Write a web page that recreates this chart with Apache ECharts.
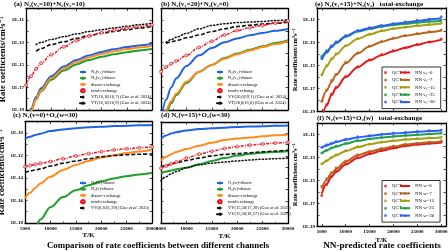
<!DOCTYPE html>
<html>
<head>
<meta charset="utf-8">
<script src="https://cdn.jsdelivr.net/npm/echarts@6/dist/echarts.min.js"></script>
<style>
  html, body { margin: 0; padding: 0; background: #fff; }
  #chart { width: 448px; height: 252px; }
</style>
</head>
<body>
<div id="chart"></div>
<script>
const T = [5000, 6000, 7000, 8000, 10000, 12500, 15000, 17500, 20000, 22500, 25000, 27500, 30000];
const tempTicks = [5000, 10000, 15000, 20000, 25000, 30000];

// every value below is log10 of the rate coefficient (cm^3 s^-1); null = not drawn
// (a) N2(v1=10)+N2(v2=10)
const aN2v1  = [-20.3, -18.9, -17.85, -17.08, -16.0, -15.14, -14.57, -14.16, -13.85, -13.61, -13.42, -13.27, -13.13];
const aN2v2  = [-20.4, -19.03, -18.06, -17.33, -16.32, -15.5, -14.96, -14.57, -14.28, -14.05, -13.87, -13.72, -13.6];
const aDisEx = [-20.5, -19.1, -18.03, -17.26, -16.18, -15.32, -14.75, -14.34, -14.03, -13.79, -13.6, -13.45, -13.31];
const aTot   = [-16.8, -16.0, -15.35, -14.85, -14.1, -13.4, -12.85, -12.45, -12.15, -11.92, -11.75, -11.58, -11.45];
const aVT1   = [null, null, -13.8, -13.55, -13.2, -12.95, -12.65, -12.4, -12.2, -12.03, -11.88, -11.73, -11.6];
const aVT2   = [null, null, -13.2, -13.0, -12.75, -12.5, -12.25, -12.05, -11.88, -11.72, -11.58, -11.43, -11.3];

// (b) N2(v1=20)+N2(v2=0)
const bN2v1  = [-20.0, -18.1, -17.0, -16.2, -15.1, -14.15, -13.5, -13.0, -12.65, -12.38, -12.17, -11.98, -11.82];
const bN2v2  = [-21.0, -19.3, -18.4, -17.7, -16.6, -15.6, -15.0, -14.4, -14.0, -13.65, -13.35, -13.05, -12.8];
const bDisEx = [-20.5, -19.0, -18.2, -17.55, -16.5, -15.6, -15.0, -14.45, -14.05, -13.72, -13.42, -13.15, -12.9];
const bTot   = [-15.6, -15.2, -14.9, -14.65, -14.15, -13.45, -12.9, -12.35, -11.95, -11.7, -11.5, -11.3, -11.1];
const bVV    = [null, -13.1, -12.95, -12.85, -12.6, -12.35, -12.05, -11.8, -11.6, -11.48, -11.38, -11.3, -11.22];
const bVT    = [null, -13.0, -12.75, -12.55, -12.2, -11.8, -11.5, -11.35, -11.25, -11.2, -11.15, -11.07, -11.0];

// (c) N2(v=0)+O2(w=30)
const cO2w   = [-10.55, -10.35, -10.2, -10.08, -9.85, -9.7, -9.6, -9.52, -9.46, -9.41, -9.37, -9.33, -9.3];
const cN2v   = [-21.0, -19.8, -18.6, -17.7, -16.6, -15.7, -15.1, -14.65, -14.3, -14.05, -13.85, -13.7, -13.55];
const cDisEx = [-15.8, -15.35, -14.9, -14.5, -13.9, -13.3, -12.85, -12.5, -12.2, -12.0, -11.8, -11.65, -11.5];
const cTot   = [-13.0, -12.9, -12.8, -12.72, -12.55, -12.3, -12.05, -11.85, -11.68, -11.52, -11.42, -11.33, -11.25];
const cVV    = [-13.5, -13.4, -13.3, -13.2, -12.95, -12.7, -12.5, -12.3, -12.12, -12.02, -11.95, -11.9, -11.87];

// (d) N2(v=15)+O2(w=30)
const dO2w   = [-10.5, -10.2, -10.02, -9.9, -9.75, -9.63, -9.55, -9.5, -9.45, -9.41, -9.37, -9.33, -9.3];
const dN2v   = [-13.55, -13.4, -13.3, -13.2, -13.05, -12.75, -12.45, -12.2, -11.98, -11.82, -11.72, -11.65, -11.6];
const dDisEx = [-12.4, -12.1, -11.85, -11.65, -11.4, -11.1, -10.85, -10.6, -10.47, -10.37, -10.27, -10.18, -10.1];
const dTot   = [-13.1, -12.9, -12.72, -12.55, -12.2, -11.85, -11.6, -11.35, -11.18, -11.05, -10.95, -10.87, -10.8];
const dVV1   = [-13.0, -12.85, -12.72, -12.62, -12.42, -12.2, -12.0, -11.87, -11.8, -11.72, -11.65, -11.57, -11.5];
const dVV2   = [-14.2, -13.85, -13.6, -13.4, -13.05, -12.8, -12.65, -12.55, -12.45, -12.37, -12.3, -12.25, -12.2];

// (e) N2(v1=15)+N2(v2) total-exchange, v2 = 0, 7, 15, 25, 30
const eLevels = ['0', '7', '15', '25', '30'];
const eNN = [
  [-19.7, -18.5, -17.6, -16.95, -16.0, -15.15, -14.55, -14.1, -13.75, -13.45, -13.2, -12.95, -12.75],
  [-18.2, -17.2, -16.45, -15.8, -14.8, -13.95, -13.35, -12.95, -12.65, -12.42, -12.25, -12.1, -11.96],
  [-15.9, -15.1, -14.5, -14.05, -13.3, -12.7, -12.3, -12.0, -11.8, -11.68, -11.55, -11.45, -11.35],
  [-14.3, -13.8, -13.4, -13.05, -12.5, -12.05, -11.82, -11.62, -11.48, -11.37, -11.27, -11.18, -11.1],
  [-14.5, -13.9, -13.4, -13.02, -12.45, -12.0, -11.75, -11.55, -11.4, -11.27, -11.13, -11.0, -10.9]
];
const eQCT = [
  [-19.3, -18.4, -17.5, -16.9, -15.95, -15.1, -14.5, -14.05, -13.7, -13.45, -13.15, -12.95, -12.7],
  [-18.1, -17.1, -16.3, -15.75, -14.7, -13.9, -13.3, -12.9, -12.6, -12.4, -12.22, -12.05, -11.92],
  [-15.8, -15.0, -14.4, -13.95, -13.25, -12.65, -12.25, -11.95, -11.78, -11.65, -11.5, -11.42, -11.3],
  [-14.2, -13.7, -13.3, -12.95, -12.45, -12.0, -11.78, -11.6, -11.45, -11.33, -11.25, -11.15, -11.05],
  [-14.4, -13.8, -13.3, -12.95, -12.4, -11.95, -11.7, -11.5, -11.35, -11.2, -11.05, -10.95, -10.75]
];

// (f) N2(v=15)+O2(w) total-exchange, w = 0, 7, 15, 25, 30
const fLevels = ['0', '7', '15', '25', '30'];
const fNN = [
  [-16.15, -15.3, -14.7, -14.25, -13.6, -13.05, -12.7, -12.42, -12.2, -12.0, -11.88, -11.78, -11.7],
  [-15.7, -14.95, -14.4, -14.0, -13.35, -12.8, -12.5, -12.25, -12.05, -11.88, -11.77, -11.68, -11.6],
  [-13.6, -13.3, -13.02, -12.8, -12.45, -12.1, -11.85, -11.67, -11.55, -11.44, -11.37, -11.31, -11.26],
  [-12.65, -12.4, -12.2, -12.05, -11.8, -11.55, -11.4, -11.27, -11.17, -11.09, -11.02, -10.96, -10.9],
  [-12.15, -11.95, -11.8, -11.65, -11.45, -11.25, -11.12, -11.0, -10.92, -10.84, -10.77, -10.7, -10.65]
];
const fQCT = [
  [-16.3, -15.35, -14.65, -14.2, -13.55, -13.0, -12.65, -12.4, -12.15, -11.98, -11.85, -11.75, -11.65],
  [-15.5, -14.85, -14.3, -13.9, -13.3, -12.75, -12.45, -12.2, -12.0, -11.85, -11.75, -11.65, -11.55],
  [-13.55, -13.25, -13.0, -12.75, -12.4, -12.05, -11.82, -11.65, -11.52, -11.42, -11.35, -11.28, -11.22],
  [-12.6, -12.35, -12.15, -12.0, -11.75, -11.5, -11.37, -11.25, -11.15, -11.07, -11.0, -10.93, -10.88],
  [-12.1, -11.9, -11.75, -11.6, -11.4, -11.2, -11.08, -10.97, -10.88, -10.8, -10.72, -10.66, -10.6]
];

const FONT = '"Liberation Serif", "DejaVu Serif", serif';
const COL = { blue: '#1f63e6', green: '#1e9e2b', orange: '#ff8a1e', red: '#e8141c', black: '#111' };
const LVL = ['#e3171b', '#b8631c', '#a3a012', '#1f9e4c', '#2b5cff'];

// y is plotted as log10(k) on a linear axis; labels are written as 1E-n
const toPts = vals => T.map((t, i) => [t, vals[i] == null ? '-' : vals[i]]);

// layout of the six panels
const panels = [
  { box: [26, 8.5, 126, 101.5], yr: [-19, -10], xr: [5000, 30000], xLab: false, yLab: true, yName: 'Rate coefficients/cm³s⁻¹', big: true },
  { box: [161, 8.5, 127, 101.5], yr: [-19, -10], xr: [5000, 30000], xLab: false, yLab: false },
  { box: [25, 121.5, 127, 101.5], yr: [-18, -9], xr: [5000, 30000], xLab: true, yLab: true, yName: 'Rate coefficients/cm³s⁻¹', big: true, xName: 'T/K' },
  { box: [161, 122, 127, 101.5], yr: [-18, -9], xr: [5000, 30000], xLab: true, yLab: false, xName: 'T/K' },
  { box: [317, 8, 129, 103.5], yr: [-19, -10], xr: [4000, 31000], xLab: false, yLab: true, yName: 'Rate coefficient/cm³s⁻¹', custom: true },
  { box: [317, 123, 129, 103.5], yr: [-19, -10], xr: [4000, 31000], xLab: true, yLab: true, yName: 'Rate coefficient/cm³s⁻¹', custom: true, xName: 'T/K' }
];

const option = {
  animation: false,
  backgroundColor: '#fff',
  title: [], grid: [], xAxis: [], yAxis: [], series: [], legend: [], graphic: []
};

const axisLine = { show: true, onZero: false, lineStyle: { color: '#000', width: 1.3 } };
const tick = { show: true, inside: true, length: 2.5, lineStyle: { color: '#000', width: 0.7 } };

panels.forEach((p, gi) => {
  option.grid.push({ left: p.box[0], top: p.box[1], width: p.box[2], height: p.box[3], containLabel: false, outerBoundsMode: 'none' });
  ['bottom', 'top'].forEach(pos => {
    const ax = {
      type: 'value', gridIndex: gi, position: pos, min: p.xr[0], max: p.xr[1],
      axisLine: axisLine, axisTick: Object.assign({}, tick), splitLine: { show: false },
      axisLabel: { show: pos === 'bottom' && p.xLab, fontSize: 5, fontWeight: 'bold', fontFamily: FONT, color: '#000', margin: 3,
        formatter: v => String(v) }
    };
    if (p.custom) {
      ax.axisTick.customValues = tempTicks;
      ax.axisLabel.customValues = tempTicks;
    } else {
      ax.interval = 5000;
      ax.minorTick = { show: true, splitNumber: 2, length: 1.5, lineStyle: { color: '#000', width: 0.6 } };
    }
    if (pos === 'bottom' && p.xName) {
      Object.assign(ax, { name: p.xName, nameLocation: 'middle', nameGap: p.custom ? 10 : 9,
        nameTextStyle: { fontSize: 7, fontWeight: 'bold', fontFamily: FONT, color: '#000' } });
    }
    option.xAxis.push(ax);
  });
  ['left', 'right'].forEach(pos => {
    const ay = {
      type: 'value', gridIndex: gi, position: pos, min: p.yr[0], max: p.yr[1], interval: 1,
      axisLine: axisLine, axisTick: tick, splitLine: { show: false },
      axisLabel: {
        show: pos === 'left' && p.yLab, fontSize: 5, fontWeight: 'bold', fontFamily: FONT, color: '#000', margin: 2,
        formatter: v => (Math.round(v) - p.yr[0]) % 2 === 0 ? '1E' + Math.round(v) : ''
      }
    };
    if (pos === 'left' && p.yName) {
      Object.assign(ay, { name: p.yName, nameLocation: 'middle', nameRotate: 90, nameGap: p.big ? 13 : 16,
        nameTextStyle: { fontSize: p.big ? 8.5 : 6.5, fontWeight: 'bold', fontFamily: FONT, color: '#000' } });
    }
    option.yAxis.push(ay);
  });
});

function line(gi, name, vals, color, kind) {
  const s = {
    type: 'line', name: name, xAxisIndex: gi * 2, yAxisIndex: gi * 2, data: toPts(vals),
    smooth: 0.35, smoothMonotone: 'x', symbol: 'none', clip: true, silent: true,
    lineStyle: { color: color, width: 2, type: 'solid' }, itemStyle: { color: color }, z: 2
  };
  if (kind === 'total') {
    s.symbol = 'circle'; s.symbolSize = 3;
    s.itemStyle = { color: '#ffc4c4', borderColor: color, borderWidth: 0.7 };
    s.lineStyle = { color: color, width: 1.5, type: [3, 1.2, 1, 1.2] };
    s.z = 4;
  } else if (kind === 'dash') {
    s.lineStyle = { color: color, width: 1.6, type: [4, 2] };
    s.z = 3;
  } else if (kind === 'dot') {
    s.lineStyle = { color: color, width: 1.5, type: [1.2, 2.2], cap: 'round' };
    s.z = 3;
  }
  option.series.push(s);
  return name;
}

function scatter(gi, name, vals, color) {
  option.series.push({
    type: 'scatter', name: name, xAxisIndex: gi * 2, yAxisIndex: gi * 2, data: toPts(vals),
    symbol: 'circle', symbolSize: 3, itemStyle: { color: color }, clip: true, silent: true, z: 5
  });
  return name;
}

const legendText = { fontSize: 4.5, fontFamily: FONT, color: '#000', lineHeight: 5,
  rich: { i: { fontSize: 4.5, fontFamily: FONT, fontStyle: 'italic', color: '#000' } } };

function addLegend(names, left, top) {
  option.legend.push({
    data: names, left: left, top: top, orient: 'vertical', itemGap: 1.2, itemWidth: 6, itemHeight: 4, padding: 0,
    selectedMode: false, textStyle: legendText,
    formatter: n => n.replace('Guo et al.', '{i|Guo et al.}')
  });
}

// panel (a)
addLegend([
  line(0, 'N₂(v₁)-dissoc', aN2v1, COL.blue),
  line(0, 'N₂(v₂)-dissoc', aN2v2, COL.green),
  line(0, 'dissoc-exchange', aDisEx, COL.orange),
  line(0, 'total-exchange', aTot, COL.red, 'total'),
  line(0, 'VT(10,10|10,7) (Guo et al. 2024)', aVT1, COL.black, 'dash'),
  line(0, 'VT(10,10|10,9) (Guo et al. 2024)', aVT2, COL.black, 'dot')
], 79, 69.5);

// panel (b)
addLegend([
  line(1, 'N₂(v₁)-dissoc', bN2v1, COL.blue),
  line(1, 'N₂(v₂)-dissoc', bN2v2, COL.green),
  line(1, 'dissoc-exchange', bDisEx, COL.orange),
  line(1, 'total-exchange', bTot, COL.red, 'total'),
  line(1, 'VV(20,0|19,1) (Guo et al. 2024)', bVV, COL.black, 'dash'),
  line(1, 'VT(20,0|16,0) (Guo et al. 2024)', bVT, COL.black, 'dot')
], 216, 69.5);

// panel (c)
addLegend([
  line(2, 'O₂(w)-dissoc', cO2w, COL.blue),
  line(2, 'N₂(v)-dissoc', cN2v, COL.green),
  line(2, 'dissoc-exchange', cDisEx, COL.orange),
  line(2, 'total-exchange', cTot, COL.red, 'total'),
  line(2, 'VV(0,30|1,29) (Guo et al. 2025)', cVV, COL.black, 'dash')
], 79, 180.5);

// panel (d)
addLegend([
  line(3, 'O₂(w)-dissoc', dO2w, COL.blue),
  line(3, 'N₂(v)-dissoc', dN2v, COL.green),
  line(3, 'dissoc-exchange', dDisEx, COL.orange),
  line(3, 'total-exchange', dTot, COL.red, 'total'),
  line(3, 'VV(15,30|17,28) (Guo et al. 2025)', dVV1, COL.black, 'dash'),
  line(3, 'VV(15,30|18,27) (Guo et al. 2025)', dVV2, COL.black, 'dot')
], 216, 180.5);

// panels (e) and (f): NN lines with QCT points
function nnPanel(gi, levels, nn, qct, varLabel, top) {
  const nnNames = levels.map((lv, i) => line(gi, 'NN ' + varLabel + '=' + lv, nn[i], LVL[i]));
  const qNames = levels.map((lv, i) => scatter(gi, 'QCT ' + varLabel + lv, qct[i], LVL[i]));
  const ts = { fontSize: 4.8, fontFamily: FONT, color: '#000', lineHeight: 5 };
  option.legend.push({
    data: qNames, left: 384, top: top + 3, orient: 'vertical', itemGap: 2.4, itemWidth: 3, itemHeight: 3,
    padding: 0, selectedMode: false, textStyle: ts, formatter: () => 'QCT'
  });
  option.legend.push({
    data: nnNames, left: 382, top: top, orient: 'vertical', itemGap: 2.4, itemWidth: 10, itemHeight: 3,
    padding: [3, 6, 4, 17], borderColor: '#000', borderWidth: 0.8, selectedMode: false, textStyle: ts
  });
}
nnPanel(4, eLevels, eNN, eQCT, 'v₂', 67);
nnPanel(5, fLevels, fNN, fQCT, 'w', 180.5);

// panel titles
const titleStyle = { fontSize: 7, fontWeight: 'bold', fontFamily: FONT, color: '#000' };
[
  ['(a) N₂(v₁=10)+N₂(v₂=10)', 14, 0.5],
  ['(b) N₂(v₁=20)+N₂(v₂=0)', 161, 0.5],
  ['(c) N₂(v=0)+O₂(w=30)', 13, 111.5],
  ['(d) N₂(v=15)+O₂(w=30)', 161, 111.5],
  ['(e) N₂(v₁=15)+N₂(v₂)   total-exchange', 315, 0.5],
  ['(f) N₂(v=15)+O₂(w)   total-exchange', 317, 114.5]
].forEach(t => option.title.push({ text: t[0], left: t[1], top: t[2], padding: 0, textStyle: titleStyle }));

// captions under the two groups
option.graphic = [
  { type: 'text', x: 158, y: 246, silent: true,
    style: { text: 'Comparison of rate coefficients between different channels', align: 'center', verticalAlign: 'middle',
      fontSize: 8.9, fontWeight: 'bold', fontFamily: FONT, fill: '#000' } },
  { type: 'text', x: 382, y: 246, silent: true,
    style: { text: 'NN-predicted rate coefficients', align: 'center', verticalAlign: 'middle',
      fontSize: 9.2, fontWeight: 'bold', fontFamily: FONT, fill: '#000' } }
];

const chart = echarts.init(document.getElementById('chart'), null, { renderer: 'canvas' });
chart.setOption(option);
</script>
</body>
</html>
